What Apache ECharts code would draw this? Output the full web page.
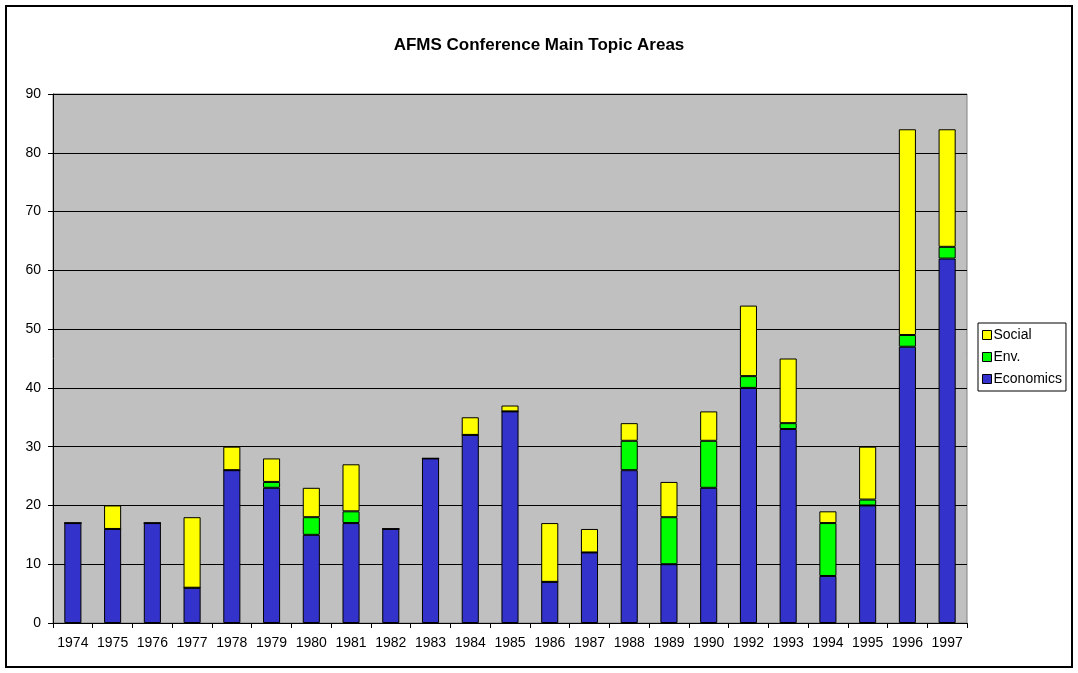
<!DOCTYPE html>
<html>
<head>
<meta charset="utf-8">
<script src="https://cdn.jsdelivr.net/npm/echarts@6/dist/echarts.min.js"></script>
<style>
  html, body { margin: 0; padding: 0; background: #fff; }
  #chart { width: 1078px; height: 673px; }
</style>
</head>
<body>
<div id="chart"></div>
<script>
// data
const years = ['1974', '1975', '1976', '1977', '1978', '1979', '1980', '1981', '1982', '1983', '1984', '1985',
    '1986', '1987', '1988', '1989', '1990', '1992', '1993', '1994', '1995', '1996', '1997']
const economics = [17, 16, 17, 6, 26, 23, 15, 17, 16, 28, 32, 36, 7, 12, 26, 10, 23, 40, 33, 8, 20, 47, 62]
const env = [0, 0, 0, 0, 0, 1, 3, 2, 0, 0, 0, 0, 0, 0, 5, 8, 8, 2, 1, 9, 1, 2, 2]
const social = [0, 4, 0, 12, 4, 4, 5, 8, 0, 0, 3, 1, 10, 4, 3, 6, 5, 12, 11, 2, 9, 35, 20]

const chart = echarts.init(document.getElementById('chart'))

const barStyle = (color) => ({ color: color, borderColor: '#000', borderWidth: 1 })
const font = 'Liberation Sans, Arial, sans-serif'

const option = {
    animation: false,
    textStyle: { fontFamily: font, color: '#000' },
    title: {
        text: 'AFMS Conference Main Topic Areas',
        left: 'center',
        top: 32,
        textStyle: { fontSize: 17, fontWeight: 'bold', color: '#000', fontFamily: font }
    },
    graphic: [{
        type: 'rect',
        shape: { x: 6, y: 6, width: 1066, height: 661 },
        style: { fill: 'none', stroke: '#000', lineWidth: 2 },
        silent: true
    }],
    legend: {
        orient: 'vertical',
        left: 978,
        top: 323,
        padding: [5, 4, 5, 4],
        itemWidth: 9,
        itemHeight: 9,
        itemGap: 8,
        borderColor: '#000',
        borderWidth: 1,
        icon: 'rect',
        textStyle: { fontSize: 14, color: '#000', fontFamily: font, padding: [0, 0, 0, -3] },
        data: [
            { name: 'Social', itemStyle: barStyle('#FFFF00') },
            { name: 'Env.', itemStyle: barStyle('#00FF00') },
            { name: 'Economics', itemStyle: barStyle('#3333CC') }
        ]
    },
    grid: {
        left: 53,
        top: 94,
        width: 914,
        height: 529,
        show: true,
        backgroundColor: '#C0C0C0',
        borderColor: '#808080',
        borderWidth: 1
    },
    xAxis: {
        type: 'category',
        data: years,
        axisLine: { lineStyle: { color: '#000' } },
        axisTick: { show: true, length: 5, inside: false, interval: 0, lineStyle: { color: '#000' } },
        axisLabel: { fontSize: 14, color: '#000', margin: 13, interval: 0, hideOverlap: false }
    },
    yAxis: {
        type: 'value',
        min: 0,
        max: 90,
        interval: 10,
        axisLine: { show: true, lineStyle: { color: '#000' } },
        axisTick: { show: true, length: 5, lineStyle: { color: '#000' } },
        axisLabel: { fontSize: 14, color: '#000', margin: 12 },
        splitLine: { lineStyle: { color: '#000', width: 1 } }
    },
    series: [
        { name: 'Economics', type: 'bar', stack: 'a', data: economics, barWidth: '43%', itemStyle: barStyle('#3333CC') },
        { name: 'Env.', type: 'bar', stack: 'a', data: env, barWidth: '43%', itemStyle: barStyle('#00FF00') },
        { name: 'Social', type: 'bar', stack: 'a', data: social, barWidth: '43%', itemStyle: barStyle('#FFFF00') }
    ]
}

chart.setOption(option)
</script>
</body>
</html>
